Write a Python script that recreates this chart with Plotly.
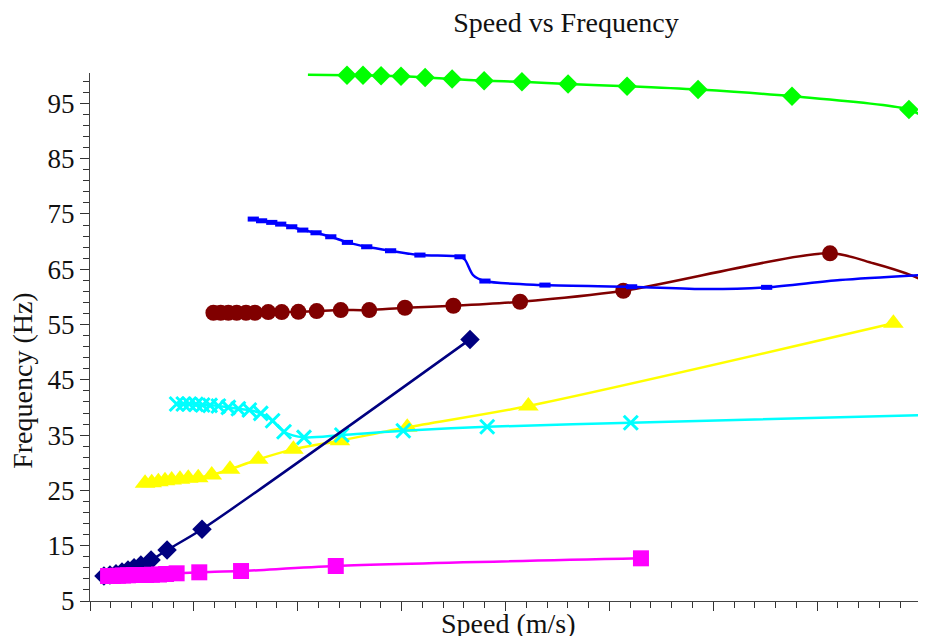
import plotly.graph_objects as go

# ---------------- data (speed in axis units, frequency in Hz) ----------------
green_x = [12.37, 13.14, 14.01, 14.97, 16.13, 17.43, 18.97, 20.79, 23.01, 25.85, 29.27, 33.79, 39.42]
green_y = [100.1, 100.1, 100.0, 99.9, 99.7, 99.4, 99.1, 98.9, 98.5, 98.1, 97.5, 96.3, 93.9]
green_line_x = [10.49, 40.24]
green_line_y = [100.2, 92.3]

blue_x = [7.86, 8.26, 8.75, 9.18, 9.71, 10.24, 10.88, 11.59, 12.39, 13.32, 14.47, 15.88, 17.81,
          19.01, 21.90, 26.07, 32.57]
blue_y = [74.08, 73.77, 73.48, 73.17, 72.69, 72.09, 71.60, 70.88, 69.86, 69.07, 68.35, 67.57, 67.26,
          62.87, 62.14, 61.84, 61.73]
blue_line_x = [7.70, 18.05, 18.44, 29.68, 36.10, 40.24]
blue_line_y = [74.26, 66.72, 63.95, 61.42, 63.05, 64.00]

maroon_x = [5.94, 6.29, 6.66, 7.06, 7.51, 7.94, 8.58, 9.23, 10.03, 10.91, 12.07, 13.44, 15.16,
            17.49, 20.70, 25.67, 35.62]
maroon_y = [57.13, 57.13, 57.13, 57.13, 57.13, 57.13, 57.26, 57.26, 57.31, 57.44, 57.62, 57.62, 58.04,
            58.40, 59.12, 61.11, 67.88]
maroon_line_x = [37.70, 39.63, 40.24]
maroon_line_y = [66.08, 63.77, 62.74]

cyan_x = [4.17, 4.49, 4.78, 5.10, 5.42, 5.78, 6.18, 6.66, 7.14, 7.67, 8.22, 8.79, 9.34, 10.30,
          12.12, 15.08, 19.12, 26.03]
cyan_y = [40.62, 40.62, 40.62, 40.57, 40.44, 40.39, 40.26, 40.03, 39.77, 39.54, 38.94, 37.60, 35.62,
          34.60, 35.02, 35.80, 36.52, 37.24]
cyan_line_x = [40.24]
cyan_line_y = [38.64]

yellow_x = [2.65, 2.97, 3.29, 3.61, 3.93, 4.33, 4.73, 5.21, 5.86, 6.74, 8.10, 9.79, 12.03, 15.27,
            21.10, 38.67]
yellow_y = [26.28, 26.39, 26.57, 26.75, 26.88, 27.01, 27.19, 27.30, 27.78, 28.82, 30.62, 32.43, 33.99,
            36.41, 40.26, 55.22]

navy_x = [0.67, 0.96, 1.25, 1.54, 1.83, 2.12, 2.45, 2.94, 3.71, 5.39, 18.29]
navy_y = [9.52, 9.70, 9.95, 10.25, 10.60, 11.00, 11.50, 12.40, 14.22, 17.97, 52.32]

magenta_x = [0.87, 1.11, 1.35, 1.59, 1.83, 2.12, 2.41, 2.70, 2.98, 3.32, 3.66, 4.17, 5.26, 7.27,
             11.83, 26.52]
magenta_y = [9.52, 9.52, 9.57, 9.61, 9.65, 9.70, 9.70, 9.70, 9.75, 9.79, 9.88, 10.01, 10.19, 10.42,
             11.33, 12.72]

y_tick_vals = [5, 15, 25, 35, 45, 55, 65, 75, 85, 95]

FONT = "Liberation Serif"


def curve(mx, my, lx=(), ly=()):
    pts = sorted(list(zip(mx, my)) + list(zip(lx, ly)))
    return [p[0] for p in pts], [p[1] for p in pts]


series = [
    # name, marker x, marker y, extra line x, extra line y, color, symbol, size, marker line width
    ("maroon", maroon_x, maroon_y, maroon_line_x, maroon_line_y, "#800000", "circle", 16, 0),
    ("blue", blue_x, blue_y, blue_line_x, blue_line_y, "#0000FF", "line-ew", 8, 5),
    ("green", green_x, green_y, green_line_x, green_line_y, "#00FF00", "diamond", 15, 0),
    ("yellow", yellow_x, yellow_y, [], [], "#FFFF00", "triangle-up", 18, 0),
    ("cyan", cyan_x, cyan_y, cyan_line_x, cyan_line_y, "#00FFFF", "x-thin", 14, 3),
    ("navy", navy_x, navy_y, [], [], "#000080", "diamond", 15, 0),
    ("magenta", magenta_x, magenta_y, [], [], "#FF00FF", "square", 16, 0),
]

fig = go.Figure()
for name, mx, my, lx, ly, col, sym, sz, mlw in series:
    cx, cy = curve(mx, my, lx, ly)
    fig.add_trace(go.Scatter(x=cx, y=cy, mode="lines", name=name,
                             line=dict(color=col, width=2.5, shape="spline", smoothing=0.8),
                             showlegend=False, hoverinfo="skip"))
    mk = dict(symbol=sym, size=sz, color=col)
    if mlw:
        mk["line"] = dict(color=col, width=mlw)
    else:
        mk["line"] = dict(width=0)
    fig.add_trace(go.Scatter(x=mx, y=my, mode="markers", name=name, marker=mk,
                             showlegend=False, cliponaxis=False))

fig.update_layout(
    width=926, height=636,
    margin=dict(l=82, r=8, t=65, b=43),
    paper_bgcolor="white", plot_bgcolor="white",
    font=dict(family=FONT, size=27, color="#111"),
    title=dict(text="Speed vs Frequency", x=0.6026, xref="container", xanchor="center",
               y=0.978, yref="container", yanchor="middle",
               font=dict(family=FONT, size=28, color="#111")),
    showlegend=False,
)

fig.update_xaxes(range=[0, 40.24], showgrid=False, zeroline=False,
                 showline=True, linecolor="#444", linewidth=1.2,
                 ticks="outside", tickcolor="#333", ticklen=9, tickwidth=1.2,
                 tick0=0, dtick=5, showticklabels=False,
                 minor=dict(ticks="outside", ticklen=6, tickcolor="#333", tickwidth=1.2,
                            tick0=0, dtick=1, showgrid=False))

fig.update_yaxes(range=[5, 100.5], showgrid=False, zeroline=False,
                 showline=True, linecolor="#444", linewidth=1.2,
                 ticks="outside", tickcolor="#333", ticklen=9, tickwidth=1.2,
                 tickmode="array", tickvals=y_tick_vals,
                 ticktext=[str(v) for v in y_tick_vals],
                 tickfont=dict(family=FONT, size=27, color="#111"),
                 minor=dict(ticks="outside", ticklen=6, tickcolor="#333", tickwidth=1.2,
                            tick0=5, dtick=2, showgrid=False))

fig.add_annotation(text="Speed (m/s)", xref="paper", yref="paper", x=0.5, y=-0.043,
                   xanchor="center", yanchor="middle", showarrow=False,
                   font=dict(family=FONT, size=28, color="#111"))
fig.add_annotation(text="Frequency (Hz)", xref="paper", yref="paper", x=-0.081, y=0.4176,
                   xanchor="center", yanchor="middle", showarrow=False, textangle=-90,
                   font=dict(family=FONT, size=28, color="#111"))

fig.write_html("out.html")
